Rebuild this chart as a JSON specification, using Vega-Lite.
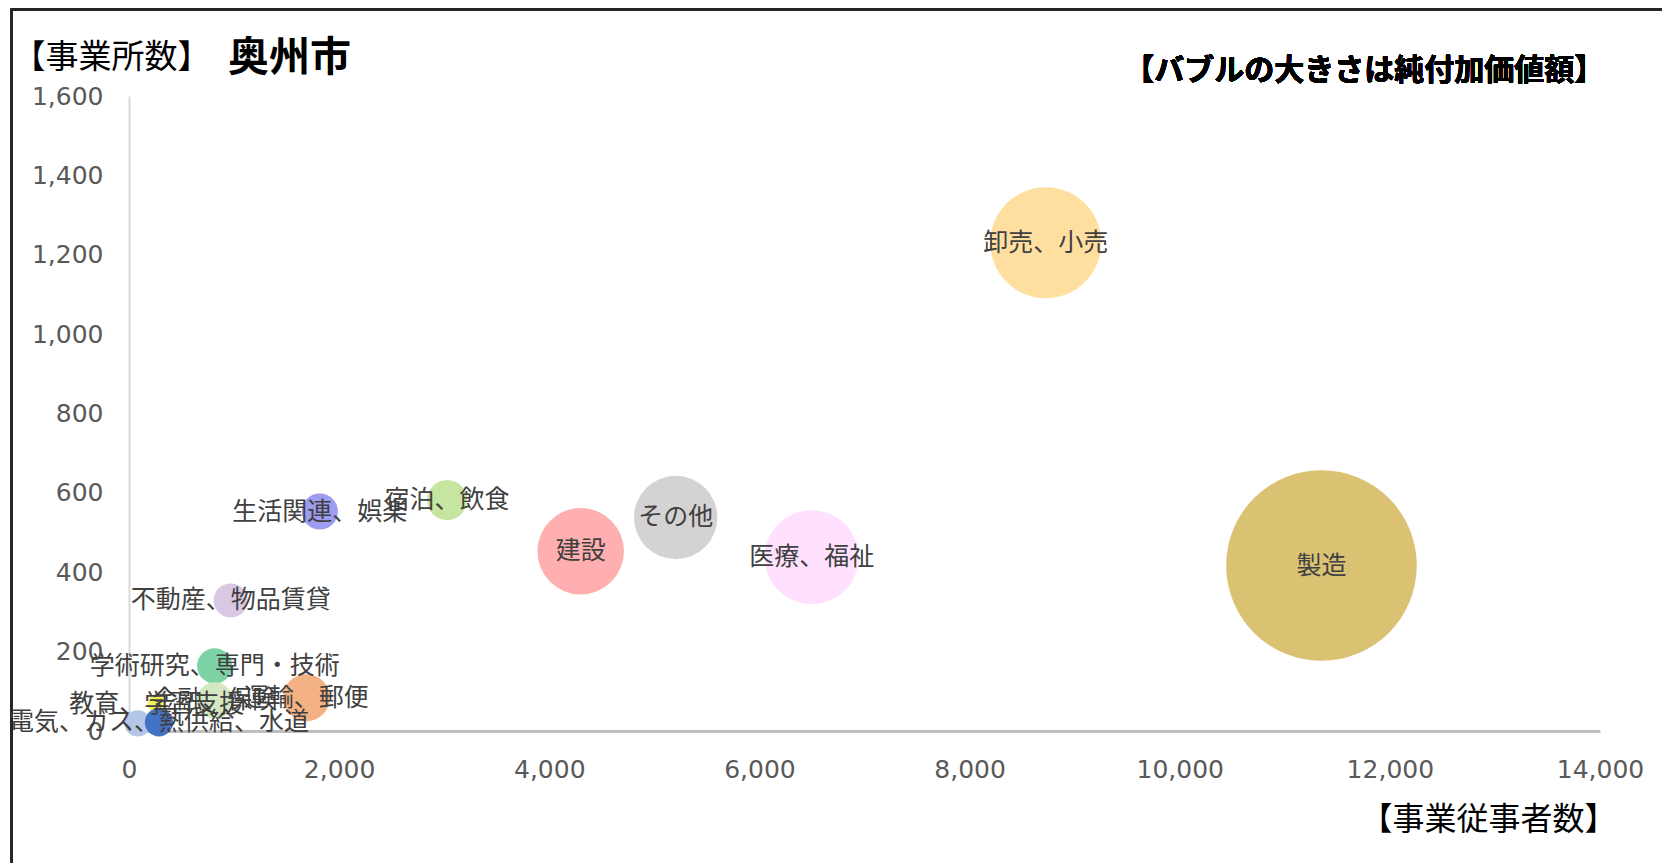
{
  "$schema": "https://vega.github.io/schema/vega-lite/v6.json",
  "autosize": "none",
  "width": 1471,
  "height": 635,
  "padding": {"left": 129, "top": 96, "right": 62, "bottom": 132},
  "background": "#ffffff",
  "config": {"view": {"stroke": null}, "font": "Noto Sans CJK JP"},
  "title": {
    "text": "奥州市",
    "anchor": "start",
    "frame": "group",
    "dx": 99,
    "dy": 90,
    "offset": 18,
    "fontSize": 41,
    "fontWeight": "bold",
    "color": "#000000",
    "font": "Noto Sans CJK JP"
  },
  "data": {
    "values": [
      {"sector": "製造", "employees": 11349, "establishments": 417, "value": 1000, "labeled": true},
      {"sector": "卸売、小売", "employees": 8725, "establishments": 1230, "value": 339, "labeled": true},
      {"sector": "医療、福祉", "employees": 6497, "establishments": 438, "value": 243, "labeled": true},
      {"sector": "その他", "employees": 5203, "establishments": 538, "value": 191, "labeled": true},
      {"sector": "建設", "employees": 4299, "establishments": 453, "value": 206, "labeled": true},
      {"sector": "宿泊、飲食", "employees": 3027, "establishments": 582, "value": 44, "labeled": true},
      {"sector": "生活関連、娯楽", "employees": 1816, "establishments": 553, "value": 36, "labeled": true},
      {"sector": "不動産、物品賃貸", "employees": 968, "establishments": 329, "value": 32, "labeled": true},
      {"sector": "学術研究、専門・技術", "employees": 815, "establishments": 164, "value": 34, "labeled": true},
      {"sector": "運輸、郵便", "employees": 1688, "establishments": 84, "value": 61, "labeled": true},
      {"sector": "金融、保険", "employees": 816, "establishments": 77, "value": 36, "labeled": true},
      {"sector": "情報通信", "employees": 83, "establishments": 19, "value": 19, "labeled": false},
      {"sector": "教育、学習支援", "employees": 264, "establishments": 68, "value": 9, "labeled": true},
      {"sector": "電気、ガス、熱供給、水道", "employees": 285, "establishments": 22, "value": 22, "labeled": true}
    ]
  },
  "encoding": {
    "x": {
      "field": "employees",
      "type": "quantitative",
      "scale": {"domain": [0, 14000], "nice": false},
      "axis": {
        "values": [0, 2000, 4000, 6000, 8000, 10000, 12000, 14000],
        "format": ",d",
        "grid": false,
        "ticks": false,
        "domainColor": "#BFBFBF",
        "domainWidth": 3,
        "labelFont": "DejaVu Sans",
        "labelFontSize": 25,
        "labelColor": "#595959",
        "labelPadding": 26,
        "labelFlush": false,
        "title": "【事業従事者数】",
        "titleFont": "Noto Sans CJK JP",
        "titleFontSize": 32,
        "titleFontWeight": "normal",
        "titleColor": "#000000",
        "titleAnchor": null,
        "titleAlign": "right",
        "titleBaseline": "middle",
        "titleX": 1487,
        "titleY": 88
      }
    },
    "y": {
      "field": "establishments",
      "type": "quantitative",
      "scale": {"domain": [0, 1600], "nice": false},
      "axis": {
        "values": [0, 200, 400, 600, 800, 1000, 1200, 1400, 1600],
        "format": ",d",
        "grid": false,
        "ticks": false,
        "domainColor": "#D9D9D9",
        "domainWidth": 2,
        "labelFont": "DejaVu Sans",
        "labelFontSize": 25,
        "labelColor": "#595959",
        "labelPadding": 26,
        "labelFlush": false,
        "title": "【事業所数】",
        "titleFont": "Noto Sans CJK JP",
        "titleFontSize": 33,
        "titleFontWeight": "normal",
        "titleColor": "#000000",
        "titleAngle": 0,
        "titleAnchor": null,
        "titleAlign": "left",
        "titleBaseline": "middle",
        "titleX": -117,
        "titleY": -39
      }
    }
  },
  "layer": [
    {
      "mark": {"type": "rect", "fill": null, "stroke": "#262626", "strokeWidth": 2, "clip": false},
      "encoding": {
        "x": {"datum": -1116, "type": "quantitative"},
        "x2": {"datum": 15200},
        "y": {"datum": 1818, "type": "quantitative"},
        "y2": {"datum": -500}
      }
    },
    {
      "mark": {"type": "circle", "opacity": 1, "stroke": null},
      "encoding": {
        "size": {
          "field": "value",
          "type": "quantitative",
          "scale": {"domain": [0, 1000], "range": [0, 36328], "zero": true},
          "legend": null
        },
        "color": {
          "field": "sector",
          "type": "nominal",
          "scale": {
            "domain": ["製造", "卸売、小売", "医療、福祉", "その他", "建設", "宿泊、飲食", "生活関連、娯楽", "不動産、物品賃貸", "学術研究、専門・技術", "運輸、郵便", "金融、保険", "情報通信", "教育、学習支援", "電気、ガス、熱供給、水道"],
            "range": ["#DBC273", "#FFDF9F", "#FFE1FF", "#D4D2D3", "#FFAFAF", "#C6E5A0", "#9C9CF0", "#D9C8E3", "#7DD3A5", "#F4B183", "#D4E8C2", "#B4C7E7", "#F2F25A", "#4472C4"]
          },
          "legend": null
        }
      }
    },
    {
      "transform": [{"filter": "datum.labeled"}],
      "mark": {"type": "text", "fontSize": 25, "color": "#404040", "font": "Noto Sans CJK JP", "align": "center", "baseline": "middle"},
      "encoding": {
        "text": {"field": "sector", "type": "nominal"}
      }
    },
    {
      "mark": {"type": "text", "fontSize": 30, "fontWeight": "bold", "color": "#000000", "font": "Noto Sans CJK JP", "align": "right", "baseline": "middle", "clip": false},
      "encoding": {
        "x": {"datum": 14040, "type": "quantitative"},
        "y": {"datum": 1662, "type": "quantitative"},
        "text": {"value": "【バブルの大きさは純付加価値額】"}
      }
    }
  ]
}
